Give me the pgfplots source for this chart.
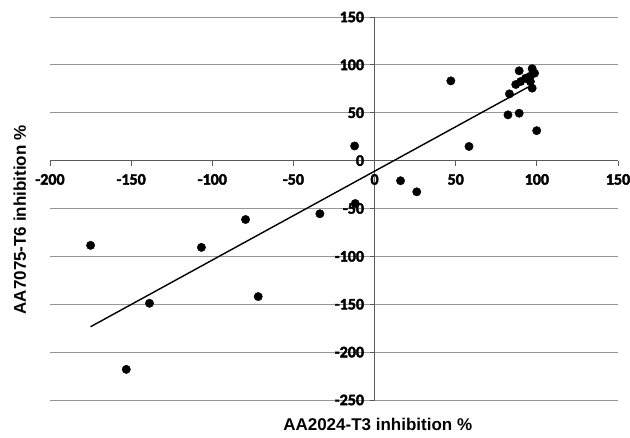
\documentclass[border=0pt]{standalone}
\usepackage{pgfplots}
\pgfplotsset{compat=1.18}
\usepackage{fontspec}
\setmainfont{Carlito}
\newfontfamily\titlefont{Liberation Sans}
\newfontfamily\tickfam{Carlito}[FakeBold=2.5]

\definecolor{gridGray}{RGB}{150,150,150}
\definecolor{axisGray}{RGB}{90,90,90}

\begin{document}
\begin{tikzpicture}[x=1pt,y=1pt]
\useasboundingbox (0,0) rectangle (630,438);
% ===== scatter of AA7075-T6 vs AA2024-T3 inhibition, with linear trend =====
\begin{axis}[
    at={(50pt,38pt)}, anchor=south west,
    width=568pt, height=383pt, scale only axis,
    xmin=-200, xmax=150, ymin=-250, ymax=150,
    axis lines=middle,
    axis line style={-, axisGray, line width=0.9pt},
    xtick={-200,-150,...,150},
    ytick={-250,-200,...,150},
    hide obscured x ticks=false,
    hide obscured y ticks=false,
    tick align=outside,
    major tick length=5pt,
    tick style={axisGray, line width=0.9pt},
    ymajorgrids,
    grid style={gridGray, line width=0.8pt},
    xticklabel={\pgfmathprintnumber[assume math mode=true]{\tick}},
    yticklabel={\pgfmathprintnumber[assume math mode=true]{\tick}},
    xticklabel style={yshift=-5pt, font=\tickfam\fontsize{16}{18}\selectfont\bfseries},
    yticklabel style={xshift=-2pt, font=\tickfam\fontsize{16}{18}\selectfont\bfseries},
    xlabel={AA2024-T3 inhibition \%},
    ylabel={AA7075-T6 inhibition \%},
    xlabel style={at={(axis description cs:0.577,-0.065)}, anchor=center,
        font=\titlefont\fontsize{17}{18}\selectfont\bfseries},
    ylabel style={at={(axis description cs:-0.053,0.47)}, anchor=center, rotate=90,
        font=\titlefont\fontsize{17}{18}\selectfont\bfseries},
    clip=false,
]
\addplot[only marks, mark=*, mark size=4.2pt, black] coordinates {
    (-175,-88.5) (-153,-218) (-138.7,-149) (-106.7,-90.6) (-79.5,-61.5)
    (-71.7,-142) (-33.7,-55.5) (-11.9,-44.8) (-12.3,15.3) (16,-21)
    (26,-32.6) (47,83.3) (58.2,14.8) (82.2,47.8) (89.1,49.5)
    (99.9,31.3) (83.1,69.7) (87,79.5) (89.1,93.8) (90,82.6)
    (93,86) (96,82.6) (97.1,96) (98.6,91.3) (97.1,75.7) (95.7,88)
};
% linear trendline
\addplot[black, line width=1.4pt] coordinates {(-175,-173.5) (97,79)};
\end{axis}
\end{tikzpicture}
\end{document}
